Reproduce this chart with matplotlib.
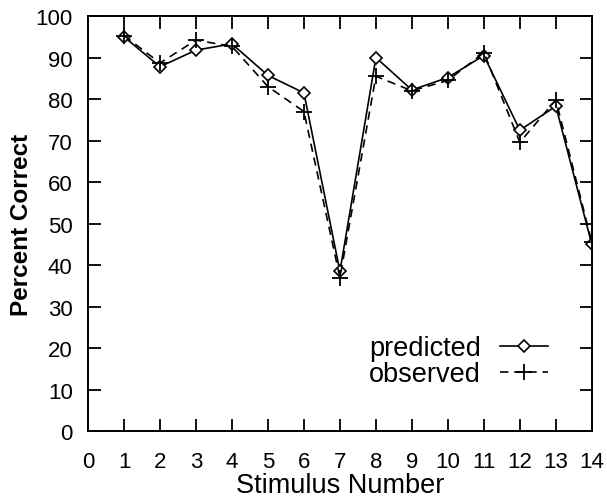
import matplotlib
matplotlib.use("Agg")
import matplotlib.pyplot as plt

plt.rcParams['font.family'] = ['Liberation Sans', 'DejaVu Sans']

stimulus = list(range(1, 15))
predicted = [95, 87.8, 91.8, 93.3, 85.7, 81.5, 38.5, 90, 82.2, 85.2, 90.5, 72.5, 78.3, 45]
observed = [95.3, 88.7, 94.2, 92.7, 83, 77, 37, 85.5, 82, 84.5, 91.2, 69.6, 79.8, 45.5]
x_ticks = list(range(0, 15))
y_ticks = list(range(0, 101, 10))

fig = plt.figure(figsize=(6.07, 5.02), dpi=100)
ax = fig.add_axes([0.145, 0.139, 0.83, 0.827])

ax.plot(stimulus, predicted, color='black', lw=1.2, marker='D',
        markersize=6.5, markerfacecolor='white', markeredgecolor='black',
        markeredgewidth=1.2, label='predicted')
ax.plot(stimulus, observed, color='black', lw=1.2, linestyle=(0, (5, 3.5)),
        marker='+', markersize=11, markeredgewidth=1.3, label='observed')

ax.set_xlim(0, 14)
ax.set_ylim(0, 100)
ax.set_xticks(x_ticks)
ax.set_yticks(y_ticks)
ax.tick_params(direction='in', length=9, width=1.3, labelsize=16,
               top=True, right=True)
ax.tick_params(axis='x', pad=14)
ax.tick_params(axis='y', pad=11)
for sp in ax.spines.values():
    sp.set_linewidth(1.4)

ax.set_xlabel('Stimulus Number', fontsize=19.5, labelpad=0)
ax.set_ylabel('Percent Correct', fontsize=17.5, fontweight='bold', labelpad=2)

leg = ax.legend(loc='lower right', bbox_to_anchor=(0.962, 0.047), frameon=False,
                markerfirst=False, fontsize=19.5, handlelength=1.8,
                handletextpad=0.7, labelspacing=0.0, numpoints=1,
                borderpad=0.4)

fig.savefig('out.png', dpi=100)
